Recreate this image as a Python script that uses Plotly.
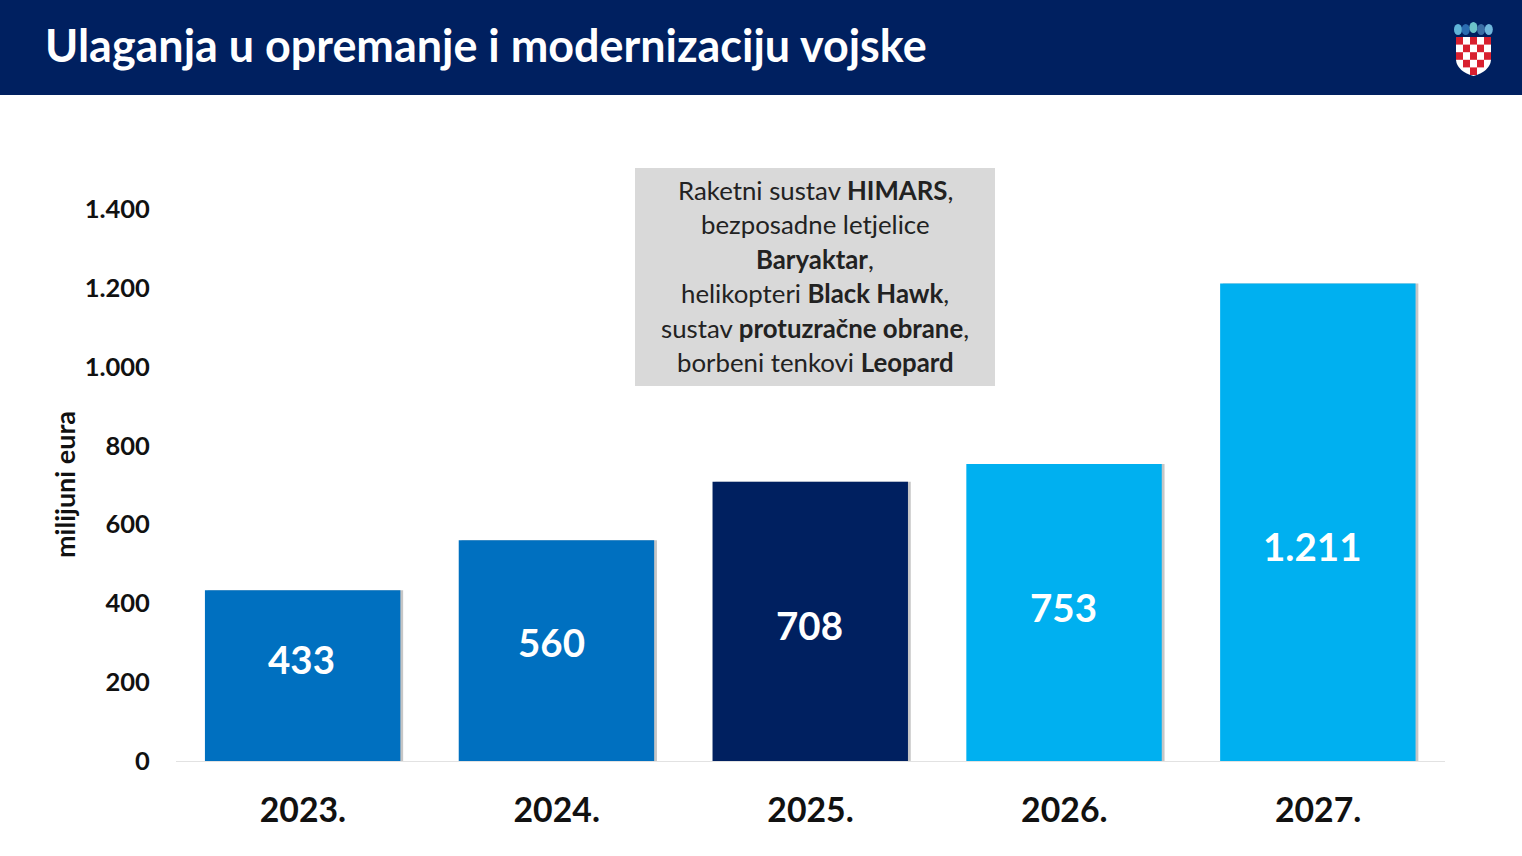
import plotly.graph_objects as go

W, H = 1522, 856

years = ["2023.", "2024.", "2025.", "2026.", "2027."]
values = [433, 560, 708, 753, 1211]
bar_colors = ["#0070C0", "#0070C0", "#002060", "#00B0F0", "#00B0F0"]
y_ticks = [0, 200, 400, 600, 800, 1000, 1200, 1400]
box_lines = [
    "Raketni sustav <b>HIMARS</b>,",
    "bezposadne letjelice",
    "<b>Baryaktar</b>,",
    "helikopteri <b>Black Hawk</b>,",
    "sustav <b>protuzračne obrane</b>,",
    "borbeni tenkovi <b>Leopard</b>",
]

FONT = "Lato"


def px_x(x):
    return x / W


def px_y(y):
    return 1 - y / H


def rect(x0, y0, x1, y1, color):
    return dict(type="rect", xref="paper", yref="paper", x0=px_x(x0), x1=px_x(x1),
                y0=px_y(y0), y1=px_y(y1), fillcolor=color, line_width=0, layer="above")


def label(x, y, text, size, color="#111111", **kw):
    return dict(xref="paper", yref="paper", x=px_x(x), y=px_y(y), text=text, showarrow=False,
                font=dict(family=FONT, size=size, color=color),
                xanchor=kw.pop("xanchor", "center"), yanchor="middle", **kw)


fig = go.Figure()
# soft shadow to the right of each bar
fig.add_bar(x=years, y=values, width=0.77, offset=-0.375, marker_color="#C6C6C6",
            marker_line_width=0, hoverinfo="skip", showlegend=False)
fig.add_bar(x=years, y=values, width=0.77, offset=-0.386, marker_color=bar_colors,
            marker_line_width=0, showlegend=False)

# header, grey box and coat of arms
shapes = [rect(0, 0, W, 95, "#002060"), rect(635, 168, 995, 386, "#D9D9D9")]
shapes.append(dict(type="path", xref="paper", yref="paper", layer="above", line_width=0, fillcolor="#FFFFFF",
                   path=f"M {px_x(1456)} {px_y(37)} L {px_x(1491)} {px_y(37)} L {px_x(1491)} {px_y(60)} "
                        f"Q {px_x(1490)} {px_y(71)} {px_x(1473.5)} {px_y(76)} "
                        f"Q {px_x(1457)} {px_y(71)} {px_x(1456)} {px_y(60)} Z"))
for row in range(5):
    for col in range(5):
        if (row + col) % 2 == 0:
            x0 = 1456 + col * 7
            y0 = 37 + row * 7.6
            # the shield narrows at the bottom, skip the corners
            if row == 4 and col in (0, 4):
                continue
            shapes.append(rect(x0, y0, x0 + 7, y0 + 7.6, "#D8202F"))
for i, c in enumerate(["#5FB4D8", "#2B6CB0", "#6CC3C9", "#3A6EA5", "#6FB7DC"]):
    cx = 1458 + i * 7.7
    top = 22 if i == 2 else 24
    shapes.append(dict(type="circle", xref="paper", yref="paper", layer="above", line_width=0, fillcolor=c,
                       x0=px_x(cx - 4), x1=px_x(cx + 4), y0=px_y(top), y1=px_y(top + 11)))

notes = [label(43, 45, "<b>Ulaganja u opremanje i modernizaciju vojske</b>", 44.9, "#FFFFFF", xanchor="left")]
for i, line in enumerate(box_lines):
    notes.append(label(815, 190 + i * 34.4, line, 25.8, "#222222"))

# value labels do not sit exactly in the bar centres in the original
label_px = [(301, 659), (551, 642), (809, 625), (1063, 607), (1312, 546)]
for (lx, ly), v in zip(label_px, values):
    notes.append(label(lx, ly, "<b>" + f"{v:,}".replace(",", ".") + "</b>", 38.5, "#FFFFFF"))

notes.append(label(65, 485, "<b>milijuni eura</b>", 27, textangle=-90))

fig.update_layout(
    width=W,
    height=H,
    margin=dict(l=0, r=0, t=0, b=0),
    paper_bgcolor="white",
    plot_bgcolor="white",
    barmode="overlay",
    shapes=shapes,
    annotations=notes,
    font=dict(family=FONT, color="#111111"),
    separators=",.",
    xaxis=dict(domain=[px_x(176), px_x(1445)], automargin=False, showgrid=False, showline=True, linecolor="#E2E2E2",
               linewidth=1, ticks="outside", ticklen=19, tickcolor="rgba(0,0,0,0)",
               tickfont=dict(family=FONT, size=33.8, color="#111111", weight=700)),
    yaxis=dict(domain=[px_y(761), px_y(209)], automargin=False, range=[0, 1400], tickvals=y_ticks, tickformat=",d",
               showgrid=False, zeroline=False, showline=False, ticks="outside", ticklen=20,
               tickcolor="rgba(0,0,0,0)", tickfont=dict(family=FONT, size=25.5, color="#111111", weight=700)),
)

fig.write_html("out.html", config={"displayModeBar": False}, post_script="document.body.style.margin='0';")
